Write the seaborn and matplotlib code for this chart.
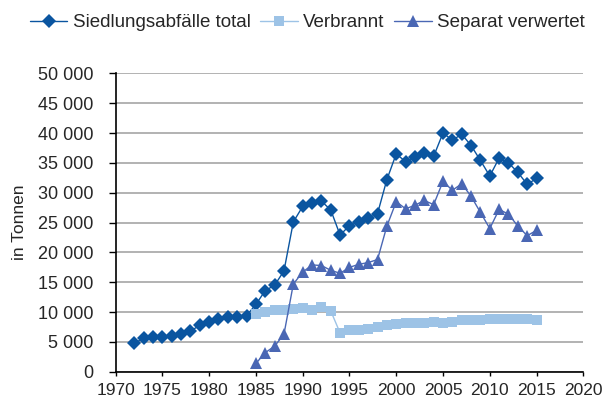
import numpy as np
import pandas as pd
import matplotlib
matplotlib.use('Agg')
import matplotlib.pyplot as plt
import matplotlib.ticker as mticker
import seaborn as sns

sns.set_style('white')
plt.rcParams['font.family'] = ['Liberation Sans', 'DejaVu Sans']

years_total = list(range(1972, 2016))
total = [4800, 5600, 5800, 5800, 6000, 6300, 6800, 7800, 8400, 8900,
         9200, 9200, 9400, 11300, 13600, 14500, 16900, 25100, 27700, 28300,
         28600, 27100, 22900, 24500, 25100, 25700, 26500, 32200, 36500, 35200,
         36000, 36700, 36100, 40000, 38800, 39800, 37900, 35400, 32800, 35800,
         35000, 33400, 31400, 32400]

years_sub = list(range(1985, 2016))
verbrannt = [9700, 10000, 10300, 10300, 10600, 10700, 10400, 10900, 10200, 6500,
             7000, 7000, 7200, 7500, 7900, 8000, 8200, 8200, 8200, 8400,
             8200, 8400, 8600, 8600, 8600, 8800, 8800, 8800, 8800, 8800,
             8600]
separat = [1400, 3200, 4300, 6300, 14700, 16700, 17900, 17800, 17000, 16500,
           17500, 18000, 18300, 18800, 24400, 28500, 27300, 27900, 28700, 28000,
           31900, 30400, 31500, 29400, 26700, 24000, 27200, 26400, 24400, 22800,
           23700]

c_total = '#0A55A0'
c_verb = '#9DC3E6'
c_sep = '#4A67B4'

df_total = pd.DataFrame({'Jahr': years_total, 'Tonnen': total})
df_sub = pd.DataFrame({'Jahr': years_sub, 'Verbrannt': verbrannt, 'Separat': separat})

fig = plt.figure(figsize=(6.02, 4.05), dpi=100)
ax = fig.add_axes([0.192, 0.082, 0.777, 0.737])

sns.lineplot(x='Jahr', y='Tonnen', data=df_total, ax=ax, color=c_total,
             marker='D', markersize=7, markeredgewidth=0, linewidth=1.0,
             label='Siedlungsabfälle total')
sns.lineplot(x='Jahr', y='Verbrannt', data=df_sub, ax=ax, color=c_verb,
             marker='s', markersize=6.5, markeredgewidth=0, linewidth=1.0,
             label='Verbrannt')
sns.lineplot(x='Jahr', y='Separat', data=df_sub, ax=ax, color=c_sep,
             marker='^', markersize=8.5, markeredgewidth=0, linewidth=1.0,
             label='Separat verwertet')

ax.set_xlim(1970, 2020)
ax.set_ylim(0, 50000)
ax.set_xticks(range(1970, 2021, 5))
ax.set_yticks(range(0, 50001, 5000))
ax.yaxis.set_major_formatter(mticker.FuncFormatter(lambda v, p: f'{int(v):,}'.replace(',', ' ')))
ax.set_xlabel('')
ax.set_ylabel('in Tonnen', fontsize=12.5, labelpad=8)
ax.tick_params(axis='x', labelsize=12.5, length=3, pad=5, direction='out',
               color='black', bottom=True, width=1)
ax.tick_params(axis='y', labelsize=13, length=5, pad=11, direction='out',
               color='black', left=True, width=1)
ax.grid(axis='y', color='#A6A6A6', linewidth=1.2)
ax.set_axisbelow(True)
for s in ['top', 'right']:
    ax.spines[s].set_visible(False)
for s in ['left', 'bottom']:
    ax.spines[s].set_color('black')
    ax.spines[s].set_linewidth(1.2)

ax.legend(loc='lower center', bbox_to_anchor=(0.41, 1.115), ncol=3, frameon=False,
          fontsize=13.5, handlelength=2.0, handletextpad=0.3, columnspacing=0.5,
          borderaxespad=0)

fig.savefig('out.png', dpi=100)
